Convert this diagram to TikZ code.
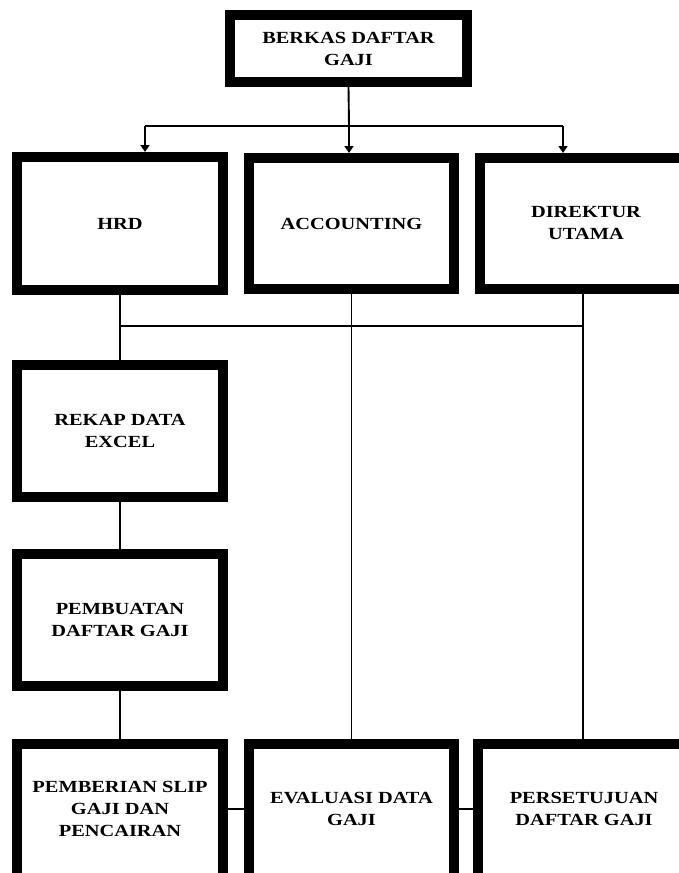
\documentclass[tikz,border=0pt]{standalone}
\usepackage{fontspec}
\setmainfont{Liberation Serif}[FakeStretch=1.2]
\usetikzlibrary{arrows.meta}
\newcommand{\lowpad}{\rule[-10pt]{0pt}{0pt}}
\begin{document}
\begin{tikzpicture}[x=1pt,y=-1pt,
  box/.style={draw=black, line width=10pt, rectangle, align=center,
    font=\fontsize{17}{22}\selectfont\bfseries, inner sep=0pt},
  conn/.style={line width=1.9pt},
  arr/.style={conn,-{Triangle[width=9pt,length=7pt]}}]
\useasboundingbox (0,0) rectangle (679,873);
\clip (0,0) rectangle (679,873);
\node[box, minimum width=237pt, minimum height=67pt] (top) at (348.5,48.5) {BERKAS DAFTAR\\GAJI};
\node[box, minimum width=206pt, minimum height=133pt] (hrd) at (120,223.5) {HRD};
\node[box, minimum width=205pt, minimum height=131pt] (acc) at (351.5,223.5) {ACCOUNTING};
\node[box, minimum width=212pt, minimum height=131pt] (dir) at (586,223.5) {DIREKTUR\\UTAMA};
\node[box, minimum width=206pt, minimum height=132pt] (rekap) at (120,431) {REKAP DATA\\EXCEL};
\node[box, minimum width=206pt, minimum height=132pt] (pemb) at (120,620) {PEMBUATAN\\DAFTAR GAJI};
\node[box, minimum width=206pt, minimum height=140pt] (pemberian) at (120,814) {PEMBERIAN SLIP\\GAJI DAN\\PENCAIRAN\lowpad};
\node[box, minimum width=205pt, minimum height=140pt] (eval) at (351.5,814) {EVALUASI DATA\\GAJI\lowpad};
\node[box, minimum width=212pt, minimum height=140pt] (perset) at (584,814) {PERSETUJUAN\\DAFTAR GAJI\lowpad};
\coordinate (tj) at (349,126);
\coordinate (tl) at (145,126);
\coordinate (tr) at (563,126);
\draw[conn] (top.south) -- (tj);
\draw[conn] (tl) -- (tr);
\draw[arr] (tl) -- (tl |- hrd.north);
\draw[arr] (tj) -- (tj |- acc.north);
\draw[arr] (tr) -- (tr |- dir.north);
\draw[conn] (hrd.south) -- (rekap.north);
\coordinate (hl) at (hrd.south |- 0,326);
\coordinate (hr) at (583,326);
\draw[conn] (hl) -- (hr);
\draw[conn] (acc.south) -- (acc.south |- eval.north);
\draw[conn] (hr |- dir.south) -- (hr |- perset.north);
\draw[conn] (rekap.south) -- (pemb.north);
\draw[conn] (pemb.south) -- (pemberian.north);
\coordinate (bl) at (0,809);
\draw[conn] (bl -| pemberian.east) -- (bl -| eval.west);
\draw[conn] (bl -| eval.east) -- (bl -| perset.west);
\end{tikzpicture}
\end{document}
